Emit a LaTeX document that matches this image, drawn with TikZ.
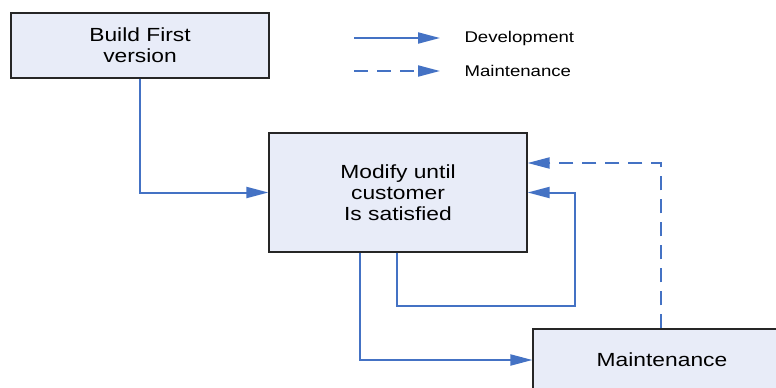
\documentclass[tikz,border=0pt]{standalone}
\usepackage{fontspec}
\setmainfont[FakeStretch=1.2]{Liberation Sans}
\usetikzlibrary{arrows.meta}
\definecolor{flowblue}{RGB}{68,114,196}
\definecolor{boxfill}{RGB}{232,236,248}
\begin{document}
\begin{tikzpicture}[x=1pt,y=-1pt,
        main/.style={draw=black!85,line width=1.2pt,fill=boxfill,minimum width=258pt,inner sep=0pt,align=center,font=\fontsize{19}{21}\selectfont},
        dev/.style={draw=flowblue,line width=2pt,-{Triangle[length=22pt,width=11pt]}},
        maint/.style={dev,dash pattern=on 14pt off 9pt}]
            \useasboundingbox (0,0) rectangle (776,388);

            \node[main, minimum height=65pt] at (140, 45.5) (build) {Build First\\version};
            \node[main, minimum height=119pt] at (398, 192.5) (modify) {Modify until\\customer\\Is satisfied};
            \node[main, minimum height=62pt] at (662, 360) (upkeep) {Maintenance};

            % legend
            \node[anchor=west, font=\fontsize{15.5}{18}\selectfont] at (461, 38) (devText) {Development};
            \node[anchor=west, font=\fontsize{15.5}{18}\selectfont] at (461, 71) (maintText) {Maintenance};
            \coordinate (devStart) at (354, 38);
            \coordinate (devEnd) at (440, 38);
            \coordinate (maintStart) at (354, 71);
            \coordinate (maintEnd) at (440, 71);

            \draw[dev](devStart) -- (devEnd);
            \draw[maint](maintStart) -- (maintEnd);

            % flow
            \coordinate (outMaint) at ([xshift=92pt]modify.south west);
            \coordinate (outLoop) at ([xshift=129pt]modify.south west);
            \coordinate (loopCorner) at (575, 306);
            \coordinate (upkeepTop) at ([xshift=-1pt]upkeep.north);
            \coordinate (backIn) at ([yshift=29.5pt]modify.east);

            \draw[dev](build.south) |- (modify.west);
            \draw[dev](outMaint) |- (upkeep.west);
            \draw[dev](outLoop) |- (loopCorner) |- (modify.east);
            \draw[maint](upkeepTop) |- (backIn);
        \end{tikzpicture}
\end{document}
